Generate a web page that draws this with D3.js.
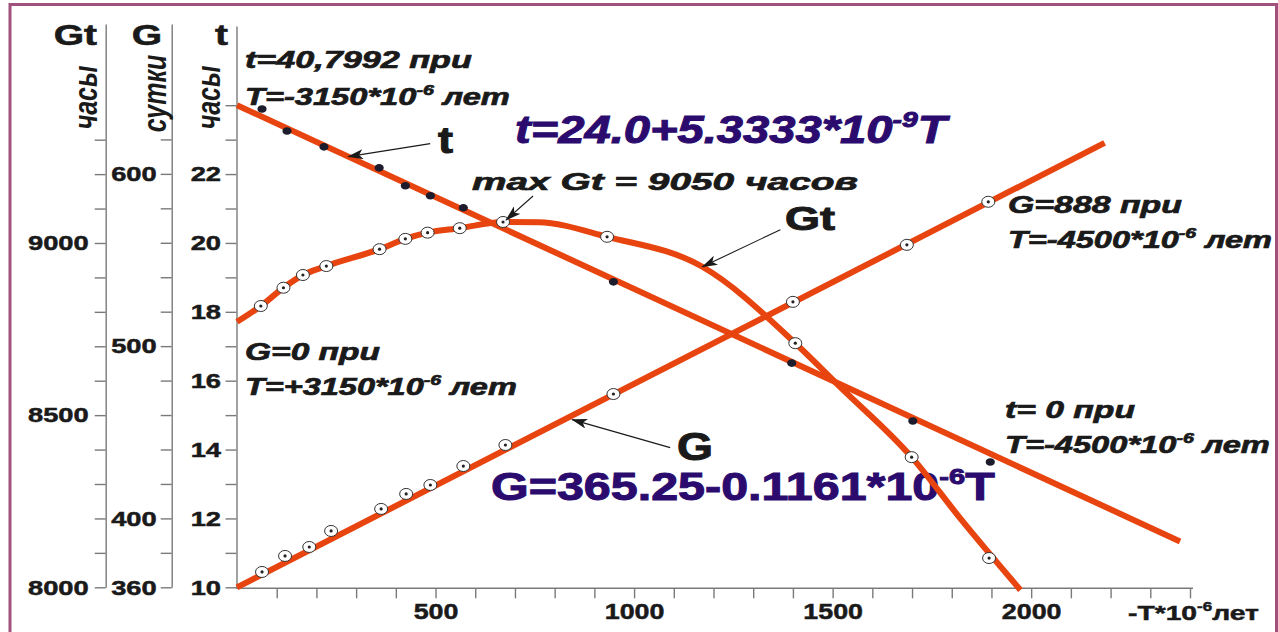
<!DOCTYPE html>
<html>
<head>
<meta charset="utf-8">
<script src="https://cdn.jsdelivr.net/npm/d3@7"></script>
<style>
  body { margin: 0; background: #fff; }
  svg { display: block; }
  text { font-family: "Liberation Sans", Arial, sans-serif; font-weight: bold; white-space: pre; }
</style>
</head>
<body>
<svg id="chart" width="1278" height="632"></svg>
<script>
// ---- data (T in 10^6 years back) ----
const periodTicks = d3.range(100, 2401, 100);
const periodLabels = [500, 1000, 1500, 2000];

const tTicks = d3.range(10, 25, 1);
const tLabels = [10, 12, 14, 16, 18, 20, 22];
const gTicks = d3.range(360, 621, 20);
const gLabels = [360, 400, 500, 600];
const gtTicks = d3.range(8000, 9301, 100);
const gtLabels = [8000, 8500, 9000];

// day length t (hours), straight fit and measured points
const tLineT = [0, 2375];
const tLineVal = [24, 11.33];
const tDotsT = [63, 126, 219, 358, 424, 487, 570, 948, 1397, 1702, 1897];
const tDotsVal = [23.89, 23.25, 22.79, 22.18, 21.66, 21.37, 21.02, 18.87, 16.51, 14.83, 13.64];

// days in a year G
const gLineT = [0, 2185];
const gLineVal = [360, 618];
const gDotsT = [63, 121, 182, 237, 363, 426, 487, 570, 676, 948, 1400, 1687, 1892];
const gDotsVal = [368.9, 378.2, 383.4, 392.7, 405.5, 414.2, 419.4, 430.4, 442.6, 472.2, 525.7, 558.8, 583.8];

// hours in a year Gt
const gtCurveT = [0, 60, 117, 166, 225, 359, 424, 480, 561, 670, 760, 932, 1172, 1406, 1516, 1699, 1825, 1973];
const gtCurveVal = [8771, 8817, 8870, 8907, 8933, 8982, 9012, 9030, 9043, 9061, 9060, 9018, 8931, 8709, 8585, 8378, 8195, 7992];
const gtDotsT = [60, 117, 166, 225, 359, 424, 480, 561, 670, 932, 1406, 1699, 1894];
const gtDotsVal = [8817, 8870, 8907, 8933, 8982, 9012, 9030, 9043, 9061, 9018, 8709, 8378, 8085];

// ---- drawing ----
const RED = '#e8440f';
const INK = '#1a1a1a';
const INDIGO = '#2b0c6e';
const AXIS = '#7a7a7a';

const svg = d3.select('#chart');

const x = d3.scaleLinear().domain([0, 2400]).range([237, 1190]);
const yT = d3.scaleLinear().domain([10, 26.3]).range([587.3, 26]);
const yG = d3.scaleLinear().domain([360, 687]).range([587.3, 24]);
const yGt = d3.scaleLinear().domain([8000, 9636]).range([587.3, 24]);

// frame
svg.append('rect')
    .attr('x', 10).attr('y', 4.5).attr('width', 1266.5).attr('height', 660)
    .attr('fill', 'none').attr('stroke', '#a0527d').attr('stroke-width', 3);

// stretch text horizontally, keeping its anchor
const widen = (sel, k) => sel.each(function() {
    const t = d3.select(this);
    const x0 = +t.attr('x') || 0;
    t.attr('x', x0 / k).attr('transform', `scale(${k},1)`);
});

function leftAxis(scale, xpos, ticks, labels, pad) {
    const g = svg.append('g')
        .attr('transform', `translate(${xpos},0)`)
        .call(d3.axisLeft(scale).tickValues(ticks).tickSize(11).tickSizeOuter(0).tickPadding(pad)
            .tickFormat(d => labels.includes(d) ? d : ''));
    g.attr('font-family', null).attr('font-size', null);
    g.selectAll('path, line').attr('stroke', AXIS).attr('stroke-width', 1.4);
    g.selectAll('text').attr('font-size', 21).attr('fill', INK)
        .attr('stroke', INK).attr('stroke-width', 0.5).call(widen, 1.3);
    return g;
}

leftAxis(yGt, 105.7, gtTicks, gtLabels, 6);
leftAxis(yG, 171.7, gTicks, gLabels, 4);
leftAxis(yT, 236.5, tTicks, tLabels, 4.5);

const xAxis = svg.append('g')
    .attr('transform', 'translate(0,588.3)')
    .call(d3.axisBottom(x).tickValues(periodTicks).tickSize(10).tickSizeOuter(0).tickPadding(5)
        .tickFormat(d => periodLabels.includes(d) ? d : ''));
xAxis.attr('font-family', null).attr('font-size', null);
xAxis.selectAll('path, line').attr('stroke', AXIS).attr('stroke-width', 1.4);
xAxis.selectAll('text').attr('font-size', 22).attr('fill', INK)
    .attr('stroke', INK).attr('stroke-width', 0.5).call(widen, 1.22);
xAxis.select('.domain').attr('d', `M${x(0) - 1},0H${x(2400) + 3}`);

// axis titles
[['Gt', 97], ['G', 162], ['t', 228]].forEach(([s, xe]) => {
    svg.append('text').attr('text-anchor', 'end').attr('font-size', 30).attr('fill', INK)
        .attr('stroke', INK).attr('stroke-width', 0.6)
        .attr('transform', `translate(${xe},45) scale(1.3,1)`).text(s);
});
[['часы', 97, 97.5], ['сутки', 165.5, 93.5], ['часы', 220, 97.5]].forEach(([s, xb, yc]) => {
    svg.append('text').attr('text-anchor', 'middle').attr('font-size', 25)
        .attr('font-weight', 'normal').attr('font-style', 'italic').attr('fill', INK)
        .attr('transform', `translate(${xb},${yc}) scale(1.3,1) rotate(-90)`).text(s);
});

// rich text with ^{superscript}, stretched to a given width
const notes = svg.append('g');
function note(str, x0, y0, w, fs, opt = {}) {
    const col = opt.color || INK;
    const t = notes.append('text')
        .attr('font-size', fs)
        .attr('font-style', opt.italic === false ? 'normal' : 'italic')
        .attr('fill', col).attr('stroke', col).attr('stroke-width', opt.heavy || 0.7);
    const shift = fs * 0.42;
    let raised = false;
    str.split(/(\^\{[^}]*\})/).forEach(p => {
        if (!p) return;
        if (p.startsWith('^{')) {
            t.append('tspan').attr('font-size', fs * 0.6).attr('dy', -shift).text(p.slice(2, -1));
            raised = true;
        } else {
            t.append('tspan').attr('dy', raised ? shift : null).text(p);
            raised = false;
        }
    });
    const bb = t.node().getBBox();
    const k = w / bb.width;
    t.attr('transform', `translate(${x0 - bb.x * k},${y0}) scale(${k},1)`);
}

note('t=40,7992 при', 245, 68, 227, 23);
note('T=-3150*10^{-6} лет', 245, 105, 265, 23);
note('t=24.0+5.3333*10^{-9}T', 515, 143, 435, 38, { color: INDIGO, heavy: 1 });
note('max Gt = 9050 часов', 472, 190, 386, 24);
note('G=888 при', 1008, 213, 174, 23);
note('T=-4500*10^{-6} лет', 1008, 248, 264, 23);
note('G=0 при', 245, 360, 135, 23);
note('T=+3150*10^{-6} лет', 245, 395, 272, 23);
note('t= 0 при', 1005, 418, 130, 23);
note('T=-4500*10^{-6} лет', 1005, 453, 265, 23);
note('G=365.25-0.1161*10^{-6}T', 491, 500, 504, 38, { color: INDIGO, italic: false, heavy: 1 });
note('t', 438, 153, 15, 36, { italic: false, heavy: 1 });
note('Gt', 785, 230, 50, 34, { italic: false, heavy: 1 });
note('G', 677, 460, 36, 38, { italic: false, heavy: 1 });
note('-T*10^{-6}лет', 1128, 620, 131, 21, { italic: false, heavy: 0.5 });

// red lines
const lines = svg.append('g').attr('fill', 'none').attr('stroke', RED).attr('stroke-width', 6);
const tPts = tLineT.map((d, i) => [x(d), yT(tLineVal[i])]);
const gPts = gLineT.map((d, i) => [x(d), yG(gLineVal[i])]);
const gtPts = gtCurveT.map((d, i) => [x(d), yGt(gtCurveVal[i])]);
lines.append('path').attr('d', d3.line()(tPts));
lines.append('path').attr('d', d3.line()(gPts));
lines.append('path').attr('d', d3.line().curve(d3.curveMonotoneX)(gtPts));

// markers
function openDots(ts, vs, scale) {
    const g = svg.append('g').selectAll('g').data(ts).join('g')
        .attr('transform', (d, i) => `translate(${x(d)},${scale(vs[i])})`);
    g.append('ellipse').attr('rx', 6.5).attr('ry', 5.5)
        .attr('fill', '#fff').attr('stroke', '#333').attr('stroke-width', 1);
    g.append('circle').attr('r', 1.6).attr('fill', '#222');
}
openDots(gDotsT, gDotsVal, yG);
openDots(gtDotsT, gtDotsVal, yGt);

svg.append('g').selectAll('ellipse').data(tDotsT).join('ellipse')
    .attr('cx', d => x(d)).attr('cy', (d, i) => yT(tDotsVal[i]))
    .attr('rx', 4.6).attr('ry', 3.8).attr('fill', '#1c1c2c');

// arrows
svg.append('defs').append('marker')
    .attr('id', 'head').attr('markerUnits', 'userSpaceOnUse')
    .attr('markerWidth', 16).attr('markerHeight', 10).attr('refX', 15).attr('refY', 5)
    .attr('orient', 'auto')
    .append('path').attr('d', 'M0,0L16,5L0,10L4,5Z').attr('fill', INK);

const tAt = d3.scaleLinear().domain(tLineT).range(tLineVal);
const gAt = d3.scaleLinear().domain(gLineT).range(gLineVal);
const arrows = [
    { tip: [x(280), yT(tAt(280))], dx: 82, dy: -13 },
    { tip: [x(670) + 3, yGt(9061) - 2], dx: 27, dy: -24 },
    { tip: [x(1172), yGt(8931)], dx: 78, dy: -37 },
    { tip: [x(844), yG(gAt(844)) + 4], dx: 98, dy: 28 }
];
svg.append('g').selectAll('line').data(arrows).join('line')
    .attr('x1', d => d.tip[0] + d.dx).attr('y1', d => d.tip[1] + d.dy)
    .attr('x2', d => d.tip[0]).attr('y2', d => d.tip[1])
    .attr('stroke', INK).attr('stroke-width', 1.1).attr('marker-end', 'url(#head)');
</script>
</body>
</html>
